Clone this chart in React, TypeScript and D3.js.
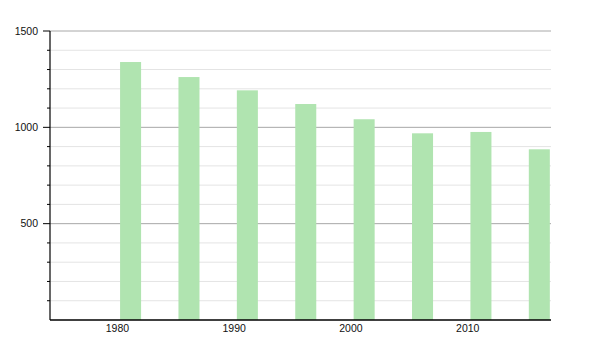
import React from "react";
import * as d3 from "d3";

const years = [1981, 1986, 1991, 1996, 2001, 2006, 2011, 2016];
const population = [1339, 1261, 1192, 1121, 1042, 969, 976, 886];
const xTickYears = [1980, 1990, 2000, 2010];
const yMajorTicks = [500, 1000, 1500];
const yMinorTicks = d3.range(100, 1500, 100).filter((v) => v % 500 !== 0);

export default function App() {
  const width = 600;
  const height = 350;
  const left = 50;
  const right = 551;
  const top = 31;
  const bottom = 320;

  const x = d3.scaleLinear().domain([1974.1, 2017]).range([left, right]);
  const y = d3.scaleLinear().domain([0, 1500]).range([bottom, top]);
  const halfBar = 0.9;
  const font = "'Liberation Sans', Arial, sans-serif";

  return (
    <svg
      width={width}
      height={height}
      style={{ position: "absolute", left: 0, top: 0, background: "#fff" }}
    >
      {yMinorTicks.map((v) => (
        <g key={"mn" + v}>
          <line x1={left} x2={right} y1={y(v)} y2={y(v)} stroke="#e4e4e4" strokeWidth={1} />
          <line x1={left - 3} x2={left} y1={y(v)} y2={y(v)} stroke="#000" strokeWidth={1} />
        </g>
      ))}
      {yMajorTicks.map((v) => (
        <g key={"mj" + v}>
          <line x1={left} x2={right} y1={y(v)} y2={y(v)} stroke="#a8a8a8" strokeWidth={1} />
          <line x1={left - 7} x2={left} y1={y(v)} y2={y(v)} stroke="#000" strokeWidth={1} />
          <text
            x={left - 12}
            y={y(v)}
            dy="0.35em"
            textAnchor="end"
            fontFamily={font}
            fontSize={10.5}
            fill="#111"
          >
            {v}
          </text>
        </g>
      ))}
      {years.map((yr, i) => (
        <rect
          key={yr}
          x={x(yr - halfBar)}
          width={x(yr + halfBar) - x(yr - halfBar)}
          y={y(population[i])}
          height={y(0) - y(population[i])}
          fill="#b0e4b0"
        />
      ))}
      <line x1={left} x2={left} y1={top} y2={bottom} stroke="#000" strokeWidth={1.2} />
      <line x1={left} x2={right} y1={bottom} y2={bottom} stroke="#000" strokeWidth={1.4} />
      {xTickYears.map((t) => (
        <text
          key={t}
          x={x(t) - 1.5}
          y={332}
          textAnchor="middle"
          fontFamily={font}
          fontSize={10.5}
          fill="#111"
        >
          {t}
        </text>
      ))}
    </svg>
  );
}
